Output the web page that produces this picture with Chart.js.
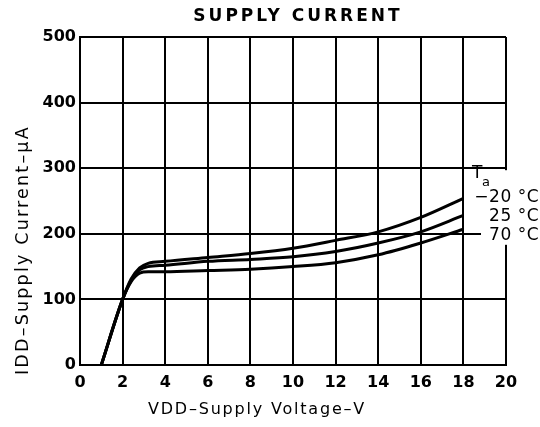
<!DOCTYPE html>
<html lang="en">
<head>
<meta charset="utf-8" />
<title>Supply current</title>
<script src="https://cdn.jsdelivr.net/npm/chart.js@4.4.0/dist/chart.umd.min.js"></script>
<style>
  html, body { margin: 0; padding: 0; background: #fff; }
</style>
</head>
<body>
<canvas id="supply" width="540" height="427"></canvas>
<script>
// values (V, uA)
var voltage = [1.0, 2.0, 2.4, 2.8, 3.2, 4, 6, 8, 10, 12, 14, 16, 18];
var currentMinus20 = [0, 100, 131, 148, 155, 158, 164, 170, 178, 190, 203, 225, 254];
var current25 = [0, 100, 129, 145, 150, 152, 158, 161, 165, 173, 186, 203, 228];
var current70 = [0, 100, 127, 140, 142, 142, 144, 146, 150, 156, 168, 186, 207];
var seriesLabels = ["\u221220 \u00b0C", "25 \u00b0C", "70 \u00b0C"];

var fontFamily = "'DejaVu Sans', sans-serif";
Chart.defaults.font.family = fontFamily;
Chart.defaults.color = "#000";

function points(values) {
  return voltage.map(function (v, i) {
    return { x: v, y: values[i] };
  });
}

function curve(label, values) {
  return {
    label: label,
    data: points(values),
    borderColor: "#000",
    borderWidth: 3,
    pointRadius: 0,
    fill: false,
    cubicInterpolationMode: "monotone",
  };
}

// titles and the Ta labels at the right edge (the scan is letter-spaced)
var chartText = {
  id: "chartText",
  afterDraw: function (chart) {
    var ctx = chart.ctx;
    var area = chart.chartArea;
    var y = chart.scales.y;
    ctx.save();
    ctx.fillStyle = "#000";
    ctx.textBaseline = "middle";

    ctx.letterSpacing = "3px";
    ctx.font = "bold 17px " + fontFamily;
    ctx.textAlign = "center";
    ctx.fillText("SUPPLY CURRENT", (area.left + area.right) / 2 + 5, 17);

    ctx.letterSpacing = "1.8px";
    ctx.font = "16px " + fontFamily;
    ctx.fillText("VDD\u2013Supply Voltage\u2013V", area.left + 177, area.bottom + 45);

    ctx.save();
    ctx.translate(area.left - 57, area.bottom + 10);
    ctx.rotate(-Math.PI / 2);
    ctx.textAlign = "left";
    ctx.letterSpacing = "2.2px";
    ctx.font = "17.5px " + fontFamily;
    ctx.fillText("IDD\u2013Supply Current\u2013\u00b5A", 0, 0);
    ctx.restore();

    // open the frame where the labels sit
    var top = y.getPixelForValue(300) + 2;
    var bottom = y.getPixelForValue(200) + 11;
    ctx.fillStyle = "#fff";
    ctx.fillRect(area.right - 25, top, 60, bottom - top);
    ctx.fillStyle = "#000";

    ctx.textAlign = "left";
    ctx.letterSpacing = "0px";
    ctx.font = "17px " + fontFamily;
    ctx.fillText("T", area.right - 34, y.getPixelForValue(300) + 5);
    ctx.font = "13px " + fontFamily;
    ctx.fillText("a", area.right - 24, y.getPixelForValue(300) + 14);

    ctx.textAlign = "right";
    ctx.letterSpacing = "0.5px";
    ctx.font = "17px " + fontFamily;
    var base = y.getPixelForValue(200);
    ctx.fillText(seriesLabels[0], 539, base - 36);
    ctx.fillText(seriesLabels[1], 539, base - 17);
    ctx.fillText(seriesLabels[2], 539, base + 2);
    ctx.restore();
  },
};

var ctx = document.getElementById("supply").getContext("2d");
var chart = new Chart(ctx, {
  type: "line",
  data: {
    datasets: [
      curve(seriesLabels[0], currentMinus20),
      curve(seriesLabels[1], current25),
      curve(seriesLabels[2], current70),
    ],
  },
  options: {
    responsive: false,
    animation: false,
    layout: { padding: { top: 37, right: 34, left: 0, bottom: 0 } },
    plugins: {
      legend: { display: false },
      tooltip: { enabled: false },
      title: { display: false },
    },
    scales: {
      x: {
        type: "linear",
        min: 0,
        max: 20,
        ticks: { stepSize: 2, padding: 8, font: { size: 16, weight: "bold" } },
        grid: { color: "#000", lineWidth: 2, drawTicks: false },
        border: { color: "#000", width: 2 },
        afterFit: function (scale) {
          scale.height = 62;
        },
      },
      y: {
        min: 0,
        max: 500,
        ticks: { stepSize: 100, padding: 4, font: { size: 16, weight: "bold" } },
        grid: { color: "#000", lineWidth: 2, drawTicks: false },
        border: { color: "#000", width: 2 },
        afterFit: function (scale) {
          scale.width = 80;
        },
      },
    },
  },
  plugins: [chartText],
});
</script>
</body>
</html>
